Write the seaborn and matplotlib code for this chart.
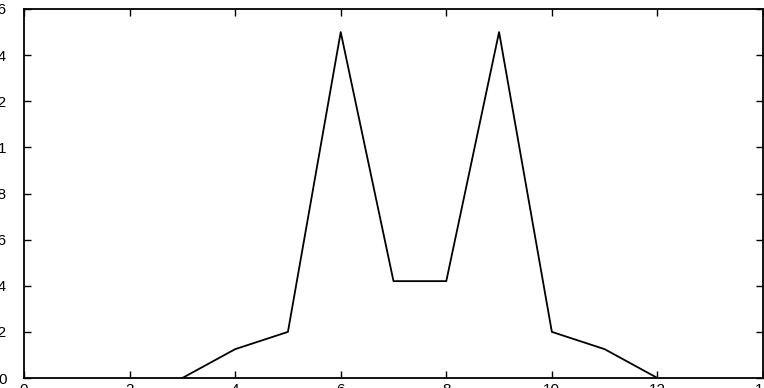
import matplotlib
matplotlib.use("Agg")
import matplotlib.pyplot as plt
import seaborn as sns
import pandas as pd

# Profile values along the track
x_pos = [3, 4, 5, 6, 7, 8, 9, 10, 11, 12]
level = [0.0, 0.125, 0.2, 1.5, 0.42, 0.42, 1.5, 0.2, 0.125, 0.0]

x_ticks = [0, 2, 4, 6, 8, 10, 12, 14]
y_ticks = [0, 0.2, 0.4, 0.6, 0.8, 1.0, 1.2, 1.4, 1.6]
y_tick_labels = ["0", "0.2", "0.4", "0.6", "0.8", "1", "1.2", "1.4", "1.6"]

sns.set_style("ticks")
plt.rcParams["font.family"] = ["Liberation Sans", "DejaVu Sans"]

df = pd.DataFrame({"x": x_pos, "y": level})

fig = plt.figure(figsize=(7.64, 3.88), dpi=100)
ax = fig.add_axes([24 / 764, 10 / 388, (763 - 24) / 764, (378 - 9) / 388])

sns.lineplot(data=df, x="x", y="y", color="black", linewidth=1.3, ax=ax)

ax.set_xlim(0, 14)
ax.set_ylim(0, 1.6)
ax.set_xticks(x_ticks)
ax.set_yticks(y_ticks)
ax.set_xticklabels([str(v) for v in x_ticks])
ax.set_yticklabels(y_tick_labels)
ax.set_xlabel("")
ax.set_ylabel("")

for side in ["top", "right", "bottom", "left"]:
    ax.spines[side].set_visible(True)
    ax.spines[side].set_color("black")
    ax.spines[side].set_linewidth(1.3)

ax.tick_params(direction="in", length=5, width=1.0, colors="black",
               top=True, right=True, labelsize=11)
ax.tick_params(axis="y", pad=12.5)
ax.tick_params(axis="x", pad=3.5)

fig.savefig("out.png", dpi=100)
